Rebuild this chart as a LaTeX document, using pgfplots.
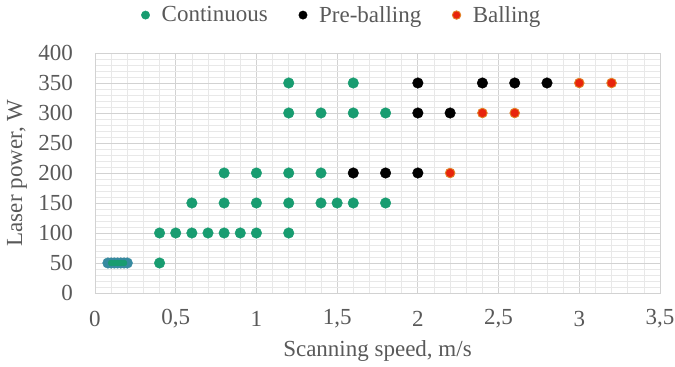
\documentclass[border=0pt]{standalone}
\usepackage{pgfplots}
\pgfplotsset{compat=1.18}
\usepackage{fontspec}
\setmainfont{Liberation Serif}
\usetikzlibrary{calc}
\definecolor{cont}{RGB}{24,156,112}
\definecolor{contb}{RGB}{55,138,160}
\definecolor{ball}{RGB}{232,36,12}
\definecolor{ballb}{RGB}{226,130,40}
\definecolor{txt}{RGB}{89,89,89}
\definecolor{gmaj}{RGB}{210,210,210}
\definecolor{gmin}{RGB}{232,232,232}
\begin{document}
\begin{tikzpicture}
\begin{axis}[
  scale only axis, width=565bp, height=240bp,
  xmin=0, xmax=3.5, ymin=0, ymax=400,
  xtick={0,0.5,1,1.5,2,2.5,3,3.5},
  ytick={0,50,100,150,200,250,300,350,400},
  minor x tick num=4, minor y tick num=4,
  grid=both,
  major grid style={gmaj, line width=0.8bp},
  minor grid style={gmin, line width=0.6bp},
  axis line style={gmaj, line width=0.8bp},
  major tick length=0pt, minor tick length=0pt,
  tick style={draw=none},
  clip=false,
  font=\fontsize{23bp}{27bp}\selectfont,
  /pgf/number format/assume math mode=true,
  /pgf/number format/use comma,
  xticklabel style={anchor=center, text=txt, yshift=-26bp},
  yticklabel style={anchor=east, inner sep=0pt, text=txt, xshift=-22bp},
  xlabel={Scanning speed, m/s},
  ylabel={Laser power, W},
  xlabel style={at={(axis description cs:0.5,0)}, anchor=center, yshift=-58bp, text=txt},
  ylabel style={at={(axis description cs:0,0.5)}, anchor=center, rotate=0, yshift=78bp, text=txt},
  legend columns=3,
  legend style={at={(axis description cs:0.437,1.158)}, anchor=center, draw=none, fill=none,
    text=txt, font=\fontsize{23bp}{27bp}\selectfont,
    /tikz/every odd column/.append style={column sep=10bp},
    /tikz/every even column/.append style={column sep=29bp}},
  legend cell align=left,
  legend image code/.code={\draw[#1, mark size=4.2bp] plot coordinates {(0bp,0bp)};},
]
\coordinate (O) at (axis cs:0,0);
\coordinate (T) at (axis cs:3.5,400);
\addplot[only marks, mark=*, mark size=5.3bp, draw=cont, fill=cont] coordinates {
 (0.4,50)
 (0.4,100) (0.5,100) (0.6,100) (0.7,100) (0.8,100) (0.9,100) (1.0,100) (1.2,100)
 (0.6,150) (0.8,150) (1.0,150) (1.2,150) (1.4,150) (1.5,150) (1.6,150) (1.8,150)
 (0.8,200) (1.0,200) (1.2,200) (1.4,200)
 (1.2,300) (1.4,300) (1.6,300) (1.8,300)
 (1.2,350) (1.6,350)
};
\addlegendentry{Continuous}
\addplot[only marks, mark=*, mark size=5.3bp, draw=black, fill=black] coordinates {
 (1.6,200) (1.8,200) (2.0,200)
 (2.0,300) (2.2,300)
 (2.0,350) (2.4,350) (2.6,350) (2.8,350)
};
\addlegendentry{Pre-balling}
\addplot[only marks, mark=*, mark size=4.8bp, draw=ballb, fill=ball, line width=0.9bp] coordinates {
 (2.2,200)
 (2.4,300) (2.6,300)
 (3.0,350) (3.2,350)
};
\addlegendentry{Balling}
\addplot[only marks, mark=*, mark size=5.3bp, draw=contb, fill=contb, forget plot] coordinates {
 (0.08,50) (0.1,50) (0.12,50) (0.14,50) (0.16,50) (0.18,50) (0.2,50)
};
\addplot[only marks, mark=*, mark size=3bp, draw=cont, fill=cont, forget plot] coordinates {
 (0.1,50) (0.12,50) (0.14,50) (0.16,50) (0.18,50)
};
\end{axis}
\pgfresetboundingbox
\path[use as bounding box] ($(O)+(-95bp,-74bp)$) rectangle ($(T)+(15bp,53bp)$);
\end{tikzpicture}
\end{document}
